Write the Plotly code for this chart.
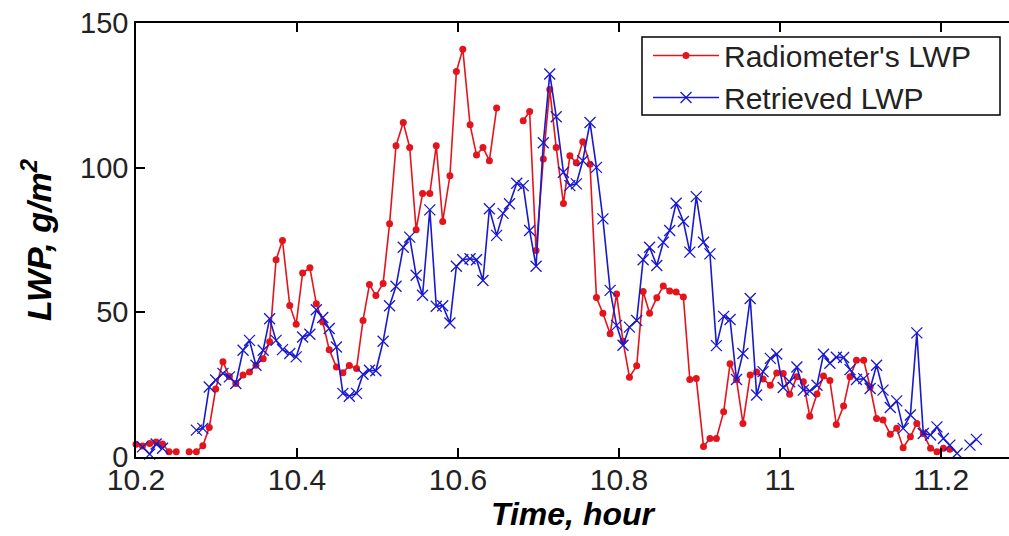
import plotly.graph_objects as go

# Time axis (hours) of the 30-s samples
time_h = [
    10.200, 10.208, 10.217, 10.225, 10.233, 10.241, 10.250, 10.258, 10.266, 10.275,
    10.283, 10.291, 10.299, 10.308, 10.316, 10.324, 10.333, 10.341, 10.349, 10.358,
    10.366, 10.374, 10.382, 10.391, 10.399, 10.407, 10.416, 10.424, 10.432, 10.440,
    10.449, 10.457, 10.465, 10.474, 10.482, 10.490, 10.498, 10.507, 10.515, 10.523,
    10.532, 10.540, 10.548, 10.556, 10.565, 10.573, 10.581, 10.590, 10.598, 10.606,
    10.615, 10.623, 10.631, 10.639, 10.648, 10.656, 10.664, 10.673, 10.681, 10.689,
    10.697, 10.706, 10.714, 10.722, 10.731, 10.739, 10.747, 10.755, 10.764, 10.772,
    10.780, 10.789, 10.797, 10.805, 10.813, 10.822, 10.830, 10.838, 10.847, 10.855,
    10.863, 10.871, 10.880, 10.888, 10.896, 10.905, 10.913, 10.921, 10.930, 10.938,
    10.946, 10.954, 10.963, 10.971, 10.979, 10.988, 10.996, 11.004, 11.012, 11.021,
    11.029, 11.037, 11.046, 11.054, 11.062, 11.070, 11.079, 11.087, 11.095, 11.104,
    11.112, 11.120, 11.128, 11.137, 11.145, 11.153, 11.162, 11.170, 11.178, 11.187,
    11.195, 11.203, 11.211, 11.220, 11.228, 11.236, 11.244,
]

radiometer_lwp = [
    4.4, 3.8, 4.7, 5.2, 4.5, 1.8, 1.8, None, 1.8, 1.8,
    3.9, 10.2, 23.5, 32.9, 27.8, 25.4, 28.3, 29.4, 31.7, 34.0,
    39.8, 68.2, 74.8, 52.4, 45.9, 63.6, 65.4, 53.0, 46.7, 37.1,
    31.1, 29.1, 31.6, 30.6, 47.2, 59.6, 55.8, 60.0, 80.6, 107.6,
    115.6, 107.0, 78.5, 91.1, 91.1, 107.6, 81.4, 97.2, 133.2, 140.9,
    114.8, 104.4, 107.0, 102.4, 120.6, None, None, None, 116.2, 119.4,
    71.4, 103.0, 127.0, 107.0, 87.6, 104.1, 101.7, 109.0, 101.2, 55.1,
    49.7, 42.6, 56.3, 40.0, 27.6, 31.5, 57.2, 49.7, 55.0, 59.1,
    57.4, 57.0, 55.3, 26.8, 27.1, 3.6, 6.4, 6.4, 15.6, 32.2,
    26.7, 11.6, 28.3, 29.4, 27.0, 24.8, 29.0, 28.9, 21.7, 27.7,
    26.0, 14.1, 21.8, 28.0, 26.4, 11.2, 17.6, 27.7, 33.4, 33.4,
    24.2, 13.3, 12.8, 7.9, 9.9, 3.2, 7.0, 11.6, 8.1, 3.0,
    1.8, 3.0, 2.7,
]

retrieved_lwp = [
    None, 3.5, 1.0, 4.5, 3.0, None, None, None, None, 9.3,
    9.9, 24.2, 26.6, 28.9, 27.7, 25.4, 36.9, 40.3, 31.7, 36.9,
    47.8, 40.3, 37.1, 35.8, 34.6, 41.5, 42.4, 50.9, 48.2, 44.4,
    38.0, 22.0, 21.0, 22.0, 28.6, 30.0, 29.8, 40.0, 52.3, 59.0,
    72.5, 76.0, 62.8, 55.9, 85.4, 52.1, 52.3, 46.3, 65.9, 68.2,
    68.5, 68.2, 61.0, 85.8, 76.6, 84.2, 87.5, 94.6, 93.8, 78.3,
    65.9, 108.6, 132.4, 117.6, 98.4, 93.8, 94.4, 102.4, 115.6, 100.1,
    82.3, 57.6, 45.5, 38.6, 44.9, 47.2, 68.2, 72.5, 66.2, 74.2,
    78.3, 87.7, 81.4, 70.8, 90.0, 74.2, 70.2, 38.5, 48.6, 47.5,
    26.8, 35.8, 54.8, 21.4, 29.5, 34.1, 35.6, 24.0, 26.0, 31.1,
    23.1, 22.8, 24.8, 35.5, 32.4, 34.5, 34.4, 30.2, 26.8, 27.1,
    23.7, 31.7, 23.1, 17.1, 19.4, 9.9, 14.5, 42.9, 8.1, 7.6,
    10.4, 6.4, 4.1, 1.3, None, 4.1, 6.1,
]

x_tick_vals = [10.2, 10.4, 10.6, 10.8, 11.0, 11.2]
x_tick_text = ["10.2", "10.4", "10.6", "10.8", "11", "11.2"]
y_tick_vals = [0, 50, 100, 150]
y_tick_text = ["0", "50", "100", "150"]

RED = "rgb(228,20,28)"
BLUE = "rgb(25,25,205)"
FONT = "Liberation Sans, Arial, Helvetica, sans-serif"
TEXT = "#222222"

fig = go.Figure()
fig.add_trace(go.Scatter(
    x=time_h[:len(radiometer_lwp)], y=radiometer_lwp,
    mode="lines+markers", name="Radiometer's LWP",
    line=dict(color=RED, width=1.6),
    marker=dict(symbol="circle", size=7, color=RED),
    connectgaps=False, cliponaxis=False,
))
fig.add_trace(go.Scatter(
    x=time_h[:len(retrieved_lwp)], y=retrieved_lwp,
    mode="lines+markers", name="Retrieved LWP",
    line=dict(color=BLUE, width=1.6),
    marker=dict(symbol="x-thin", size=11, color=BLUE,
                line=dict(color=BLUE, width=1.3)),
    connectgaps=False, cliponaxis=False,
))

# legend frame (drawn as a shape so its padding matches the reference)
fig.add_shape(
    type="rect", xref="paper", yref="paper",
    x0=0.5796, x1=0.9897, y0=0.788, y1=0.9677,
    line=dict(color="black", width=1.5), fillcolor="white", layer="below",
)

fig.update_layout(
    width=1009, height=536,
    margin=dict(l=136, r=0, t=23, b=79),
    paper_bgcolor="white", plot_bgcolor="white",
    font=dict(family=FONT, color=TEXT),
    showlegend=True,
    legend=dict(
        x=0.5865, y=0.985, xanchor="left", yanchor="top",
        borderwidth=0, bgcolor="rgba(0,0,0,0)",
        font=dict(size=30, family=FONT, color=TEXT),
        itemwidth=66,
    ),
)
fig.update_xaxes(
    range=[10.2, 11.2845],
    tickmode="array", tickvals=x_tick_vals, ticktext=x_tick_text,
    ticks="inside", ticklen=9, tickwidth=1.5, tickcolor="black",
    showline=True, linecolor="black", linewidth=1.5, mirror="ticks",
    showgrid=False, zeroline=False, ticklabelstandoff=-5,
    tickfont=dict(size=30, family=FONT, color=TEXT),
    title=dict(text="<b><i>Time, hour</i></b>",
               font=dict(size=32, family=FONT, color="black"), standoff=8),
)
fig.update_yaxes(
    range=[0, 150],
    tickmode="array", tickvals=y_tick_vals, ticktext=y_tick_text,
    ticks="inside", ticklen=9, tickwidth=1.5, tickcolor="black",
    showline=True, linecolor="black", linewidth=1.5, mirror=False,
    showgrid=False, zeroline=False,
    tickfont=dict(size=29, family=FONT, color=TEXT),
    title=dict(text="<b><i>LWP, g/m<sup>2</sup></i></b>",
               font=dict(size=34, family=FONT, color="black"), standoff=18),
)

fig.write_html("out.html")
